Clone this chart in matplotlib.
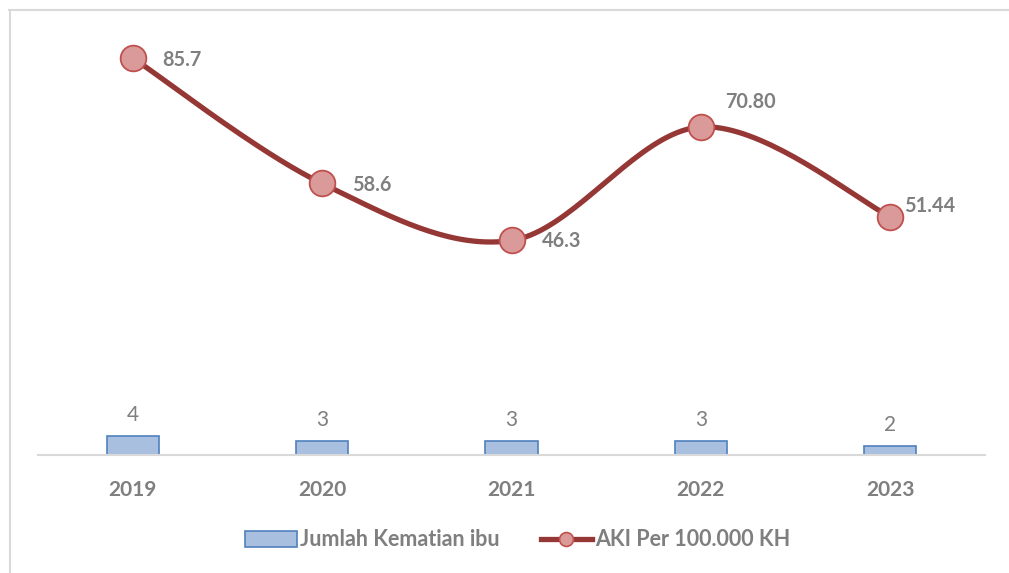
import matplotlib
matplotlib.use("Agg")
import matplotlib.pyplot as plt
from matplotlib.patches import Rectangle
from matplotlib.lines import Line2D
import numpy as np

years = ["2019", "2020", "2021", "2022", "2023"]
jumlah_kematian = [4, 3, 3, 3, 2]
aki = [85.7, 58.6, 46.3, 70.80, 51.44]
aki_labels = ["85.7", "58.6", "46.3", "70.80", "51.44"]

plt.rcParams['font.family'] = ['Lato', 'DejaVu Sans']

GRAY = "#7f7f7f"
LINE_RED = "#953735"


def smooth_curve(xs, ys, n=40):
    # excel style smoothing: cubic bezier with catmull-rom control points
    pts = np.column_stack([xs, ys]).astype(float)
    pad = np.vstack([pts[0], pts, pts[-1]])
    out = []
    for i in range(len(pts) - 1):
        p0, p1, p2, p3 = pad[i], pad[i + 1], pad[i + 2], pad[i + 3]
        c1 = p1 + (p2 - p0) / 6.0
        c2 = p2 - (p3 - p1) / 6.0
        t = np.linspace(0, 1, n)[:, None]
        seg = ((1 - t) ** 3) * p1 + 3 * ((1 - t) ** 2) * t * c1 + 3 * (1 - t) * t ** 2 * c2 + t ** 3 * p2
        out.append(seg if i == 0 else seg[1:])
    out = np.vstack(out)
    return out[:, 0], out[:, 1]


fig = plt.figure(figsize=(10.09, 5.73), dpi=100)
W, H = 1009, 573

# outer chart frame (only top and left edges visible)
fig.add_artist(Line2D([9 / W, 1.0], [1 - 9.5 / H, 1 - 9.5 / H], transform=fig.transFigure,
                      color="#d9d9d9", linewidth=1.5))
fig.add_artist(Line2D([9.5 / W, 9.5 / W], [0, 1 - 9.5 / H], transform=fig.transFigure,
                      color="#d9d9d9", linewidth=1.5))

ax = fig.add_axes([38 / W, 1 - 455 / H, (985 - 38) / W, (455 - 38) / H])
x = np.arange(len(years))

ax.bar(x, jumlah_kematian, width=0.275, color="#a8bfdf", edgecolor="#4f81bd",
       linewidth=1.2, zorder=2)
for xi, v in zip(x, jumlah_kematian):
    ax.annotate(str(v), (xi, v), xytext=(0, 8), textcoords="offset points",
                ha="center", va="bottom", fontsize=15, color=GRAY)

sx, sy = smooth_curve(x, aki)
ax.plot(sx, sy, color=LINE_RED, linewidth=3.8, solid_capstyle="round", zorder=3)
ax.plot(x, aki, linestyle="none", marker="o", markersize=18.5,
        markerfacecolor="#d99a99", markeredgecolor="#c0504d", markeredgewidth=1.3, zorder=4)

# label offsets in pixels (dx, dy) from each marker
label_offsets = [(30, -2), (30, -2), (30, -1), (24, 25), (14, 11)]
for xi, v, lab, off in zip(x, aki, aki_labels, label_offsets):
    ax.annotate(lab, (xi, v), xytext=(off[0] * 0.72, off[1] * 0.72), textcoords="offset points",
                ha="left", va="center", fontsize=14.3, fontweight="bold", color=GRAY, zorder=5)

ax.set_xlim(-0.5, len(years) - 0.5)
ax.set_ylim(0, 90)
ax.set_xticks(x)
ax.set_xticklabels(years, fontsize=15, fontweight="bold", color=GRAY)
ax.tick_params(axis="x", length=0, pad=18)
ax.set_yticks([])
for side in ["top", "right", "left"]:
    ax.spines[side].set_visible(False)
ax.spines["bottom"].set_color("#d9d9d9")
ax.spines["bottom"].set_linewidth(1.5)

handles = [
    Rectangle((0, 0), 1, 1, facecolor="#a8bfdf", edgecolor="#4f81bd", linewidth=1.2),
    Line2D([0], [0], color=LINE_RED, linewidth=3.8, marker="o", markersize=10,
           markerfacecolor="#d99a99", markeredgecolor="#c0504d", markeredgewidth=1.2),
]
leg = fig.legend(handles, ["Jumlah Kematian ibu", "AKI Per 100.000 KH"],
                 loc="center", bbox_to_anchor=(518 / W, 1 - 540 / H), ncol=2, frameon=False,
                 handlelength=2.4, handletextpad=0.15, columnspacing=1.9,
                 prop={"size": 15.5, "weight": "bold"})
for t in leg.get_texts():
    t.set_color(GRAY)

fig.savefig("out.png", dpi=100)
